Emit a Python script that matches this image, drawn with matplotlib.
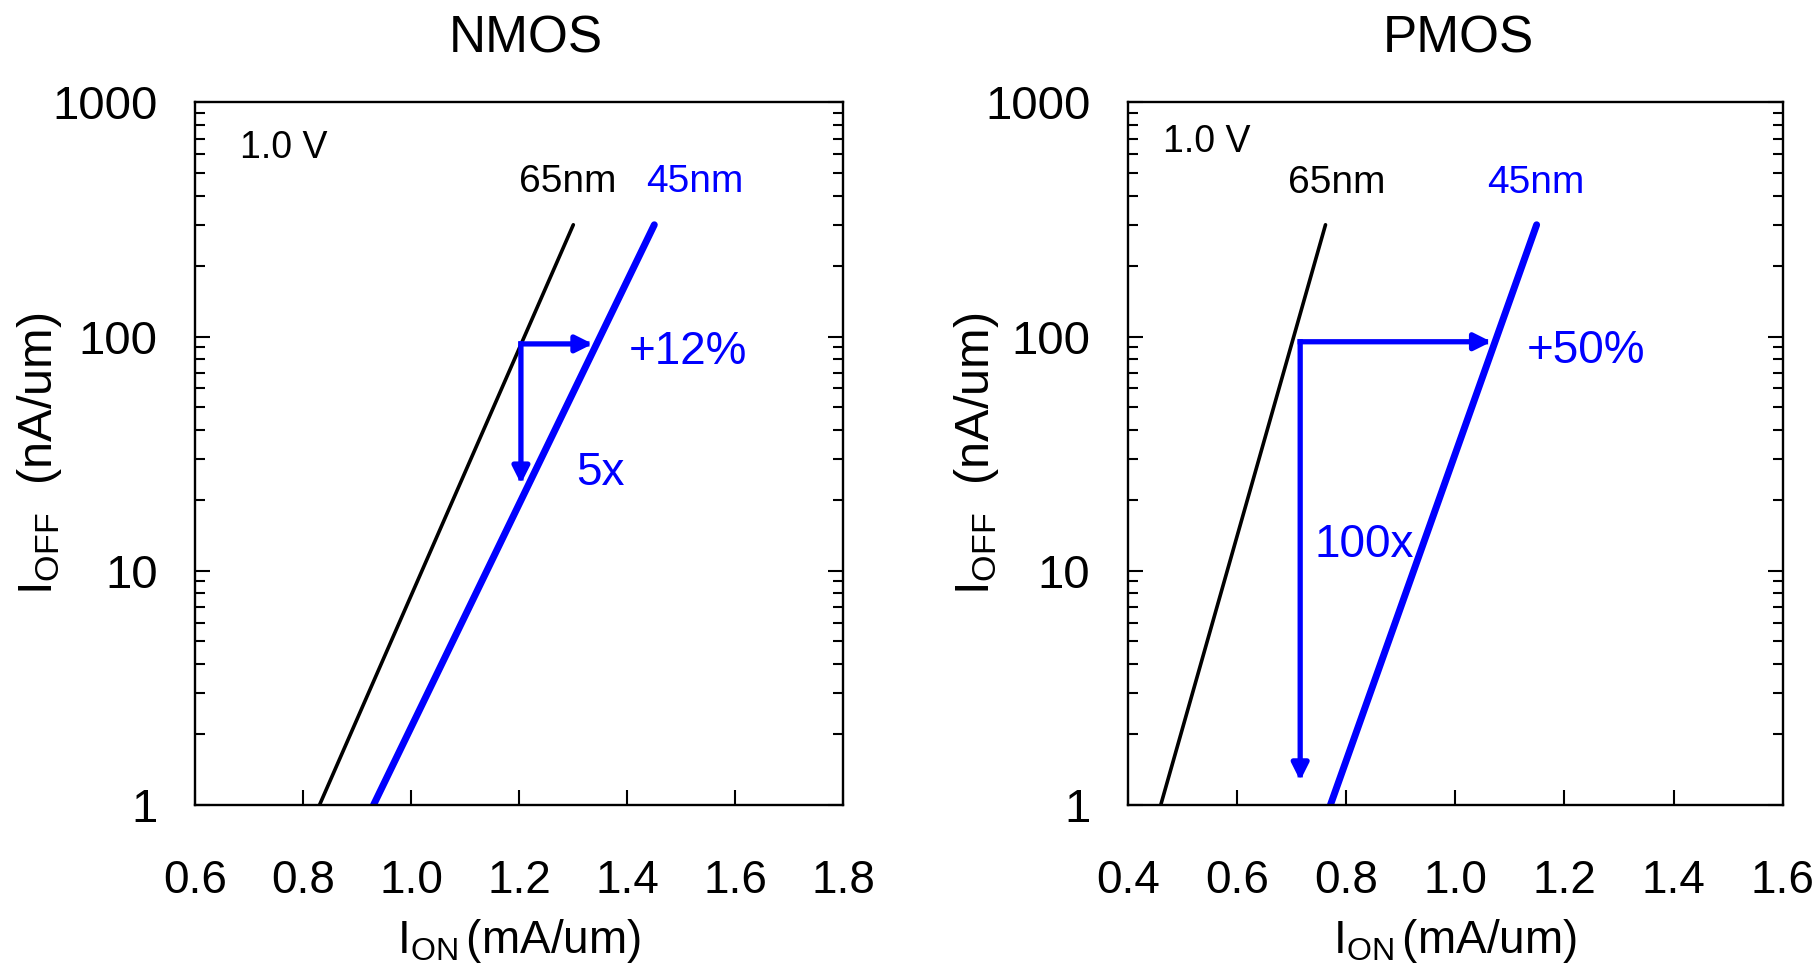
import numpy as np
import matplotlib
matplotlib.use("Agg")
import matplotlib.pyplot as plt
from matplotlib.ticker import FixedLocator, LogLocator, NullFormatter, FormatStrFormatter

plt.rcParams['font.family'] = ['Liberation Sans', 'DejaVu Sans']
plt.rcParams['mathtext.fontset'] = 'custom'
plt.rcParams['mathtext.rm'] = 'Liberation Sans'
plt.rcParams['mathtext.it'] = 'Liberation Sans'

# ---------------- data ----------------
panel_titles = ["NMOS", "PMOS"]
y_ticks = [1, 10, 100, 1000]
y_ticklabels = ["1", "10", "100", "1000"]

nmos_xticks = [0.6, 0.8, 1.0, 1.2, 1.4, 1.6, 1.8]
pmos_xticks = [0.4, 0.6, 0.8, 1.0, 1.2, 1.4, 1.6]

# I_OFF range of the iso-lines (nA/um)
line_ioff = [1, 300]
nmos_65_ion = [0.83, 1.30]
nmos_45_ion = [0.93, 1.45]
pmos_65_ion = [0.46, 0.762]
pmos_45_ion = [0.771, 1.149]

# arrows: start (ion, ioff), horizontal end ion, vertical end ioff
nmos_arrow_start = (1.203, 93)
nmos_arrow_h_end = 1.336
nmos_arrow_v_end = 23.5
pmos_arrow_start = (0.7156, 95)
pmos_arrow_h_end = 1.066
pmos_arrow_v_end = 1.27

BLUE = '#0000FF'

fig = plt.figure(figsize=(18.19, 9.64), dpi=100)
ax_n = fig.add_axes([0.10737, 0.16494, 0.35624, 0.72894])
ax_p = fig.add_axes([0.62012, 0.16494, 0.35992, 0.72894])


def style_axes(ax, xticks, title, ylab_x, title_x):
    ax.set_yscale('log')
    ax.set_ylim(1, 1000)
    ax.set_xlim(xticks[0], xticks[-1])
    ax.xaxis.set_major_locator(FixedLocator(xticks))
    ax.xaxis.set_major_formatter(FormatStrFormatter('%.1f'))
    ax.yaxis.set_major_locator(FixedLocator(y_ticks))
    ax.set_yticklabels(y_ticklabels)
    ax.yaxis.set_minor_locator(LogLocator(base=10, subs=np.arange(2, 10)))
    ax.yaxis.set_minor_formatter(NullFormatter())
    for sp in ax.spines.values():
        sp.set_linewidth(1.7)
    ax.tick_params(axis='x', which='major', direction='in', length=11, width=1.5,
                   top=False, bottom=True, labelsize=33, pad=39)
    ax.tick_params(axis='y', which='major', direction='in', length=11, width=1.5,
                   left=True, right=True, labelsize=34, pad=27)
    ax.tick_params(axis='y', which='minor', direction='in', length=7, width=1.5,
                   left=True, right=True)
    ax.set_title(title, fontsize=37, pad=36, x=title_x)
    ax.set_xlabel(r'$\mathrm{I_{ON}}\,$(mA/um)', fontsize=33, va='baseline')
    ax.xaxis.set_label_coords(0.5, -0.2106)
    ax.set_ylabel(r'$\mathrm{I_{OFF}}$  (nA/um)', fontsize=35, va='center')
    ax.yaxis.set_label_coords(ylab_x, 0.5)


def draw_arrow(ax, start, end):
    ax.annotate('', xy=end, xytext=start,
                arrowprops=dict(arrowstyle='-|>,head_length=10,head_width=5',
                                mutation_scale=1, lw=3.8, color=BLUE,
                                shrinkA=0, shrinkB=0, capstyle='projecting'))


style_axes(ax_n, nmos_xticks, panel_titles[0], -0.241, 0.51)
style_axes(ax_p, pmos_xticks, panel_titles[1], -0.232, 0.505)

# NMOS
ax_n.plot(nmos_65_ion, line_ioff, color='black', lw=2.6, solid_capstyle='round')
ax_n.plot(nmos_45_ion, line_ioff, color=BLUE, lw=5, solid_capstyle='round')
draw_arrow(ax_n, nmos_arrow_start, (nmos_arrow_h_end, nmos_arrow_start[1]))
draw_arrow(ax_n, nmos_arrow_start, (nmos_arrow_start[0], nmos_arrow_v_end))
ax_n.text(0.683, 577, '1.0 V', fontsize=27, va='baseline')
ax_n.text(1.199, 415, '65nm', fontsize=28, va='baseline')
ax_n.text(1.435, 415, '45nm', fontsize=28, va='baseline', color=BLUE)
ax_n.text(1.402, 76.4, '+12%', fontsize=33, va='baseline', color=BLUE)
ax_n.text(1.305, 23.3, '5x', fontsize=33, va='baseline', color=BLUE)

# PMOS
ax_p.plot(pmos_65_ion, line_ioff, color='black', lw=2.6, solid_capstyle='round')
ax_p.plot(pmos_45_ion, line_ioff, color=BLUE, lw=5, solid_capstyle='round')
draw_arrow(ax_p, pmos_arrow_start, (pmos_arrow_h_end, pmos_arrow_start[1]))
draw_arrow(ax_p, pmos_arrow_start, (pmos_arrow_start[0], pmos_arrow_v_end))
ax_p.text(0.465, 616, '1.0 V', fontsize=27, va='baseline')
ax_p.text(0.693, 409, '65nm', fontsize=28, va='baseline')
ax_p.text(1.0585, 409, '45nm', fontsize=28, va='baseline', color=BLUE)
ax_p.text(1.1307, 76.9, '+50%', fontsize=33, va='baseline', color=BLUE)
ax_p.text(0.7416, 11.5, '100x', fontsize=33, va='baseline', color=BLUE)

fig.savefig('out.png', dpi=100)
